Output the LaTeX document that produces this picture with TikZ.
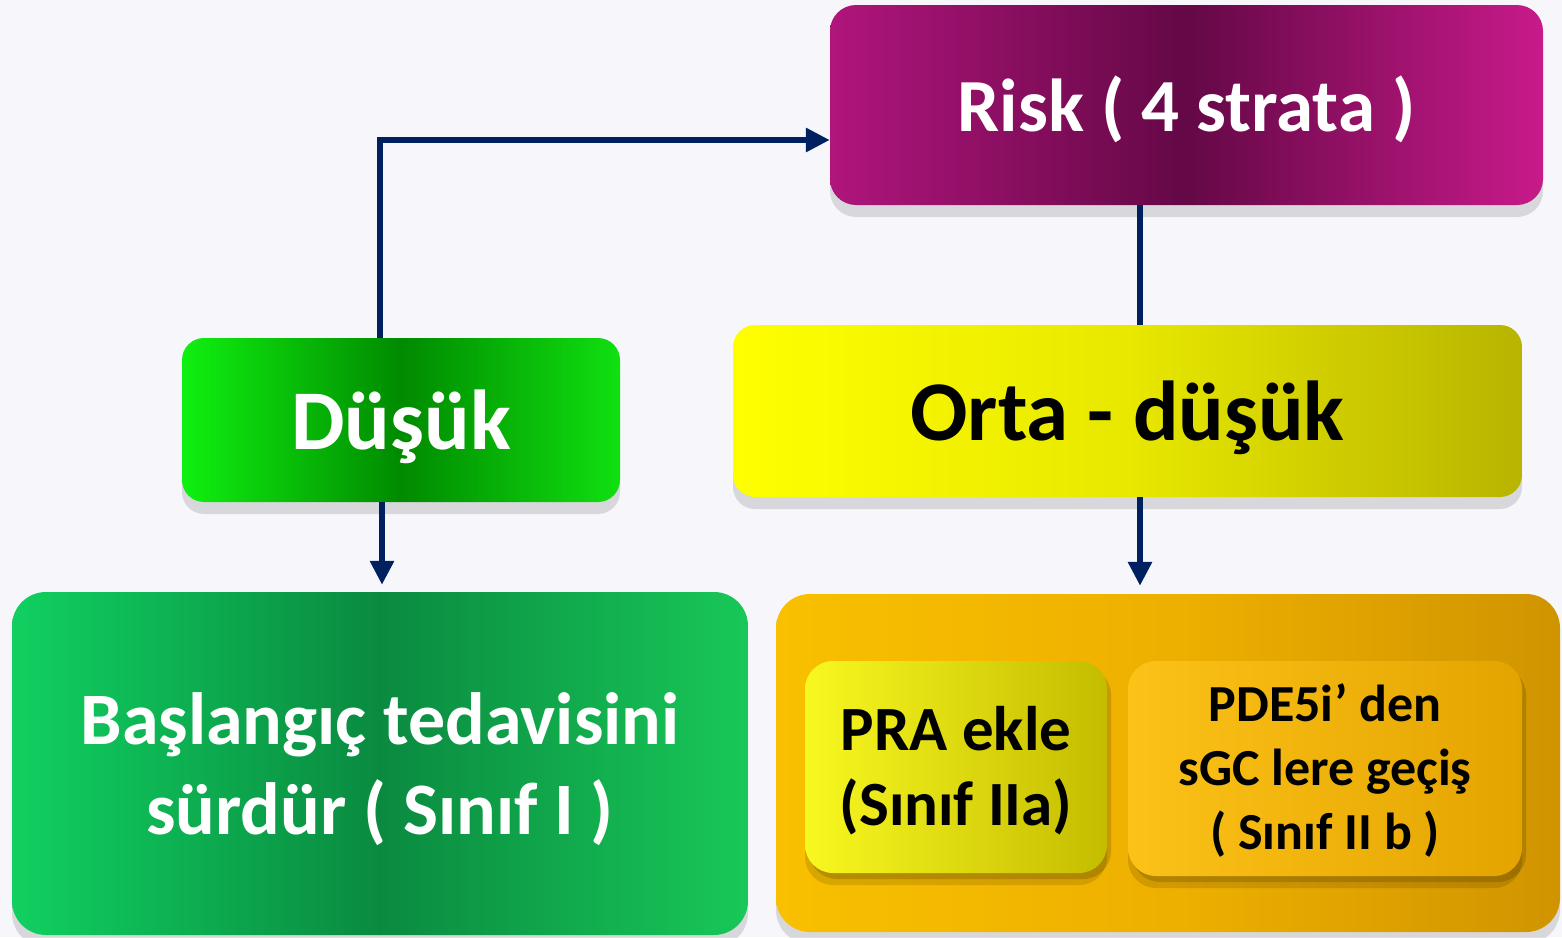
\documentclass[tikz,border=0pt]{standalone}
\usepackage{fontspec}
\setmainfont{Carlito}
\usetikzlibrary{arrows.meta,shadows,calc}
\definecolor{navy}{HTML}{002060}
\definecolor{bgc}{HTML}{F7F7FB}
\definecolor{magL}{HTML}{B0157C}
\definecolor{magM}{HTML}{640846}
\definecolor{magR}{HTML}{C81A8A}
\definecolor{grL}{HTML}{10F010}
\definecolor{grM}{HTML}{008A00}
\definecolor{grR}{HTML}{10E010}
\definecolor{yeL}{HTML}{FFFF00}
\definecolor{yeM}{HTML}{E8E800}
\definecolor{yeR}{HTML}{B8B400}
\definecolor{dgL}{HTML}{10D060}
\definecolor{dgM}{HTML}{0A8A40}
\definecolor{dgR}{HTML}{18C858}
\definecolor{orL}{HTML}{F8C000}
\definecolor{orM}{HTML}{EEB000}
\definecolor{orR}{HTML}{D09400}
\definecolor{prL}{HTML}{F8F820}
\definecolor{prR}{HTML}{C4BC00}
\definecolor{pdL}{HTML}{FCC218}
\definecolor{pdR}{HTML}{E4A400}
\tikzset{
  box/.style={rounded corners=26pt, inner sep=0pt,
    drop shadow={shadow xshift=0pt, shadow yshift=-12pt, opacity=0.12, fill=black}},
  inbox/.style={box, rounded corners=28pt,
    drop shadow={shadow xshift=4pt, shadow yshift=-6pt, opacity=0.15, fill=black}},
  label/.style={inner sep=0pt, align=center},
  conn/.style={draw=navy, line width=6.5pt},
  tip/.style={-{Triangle[length=24pt,width=23pt]}},
}
\begin{document}
\begin{tikzpicture}[x=1pt,y=-1pt]
\fill[bgc] (0,0) rectangle (1562,937);
\useasboundingbox (0,0) rectangle (1562,937);
% boxes
\node[box, minimum width=713pt, minimum height=200pt, left color=magL, right color=magR, middle color=magM] (risk) at (1186.5,105) {};
\node[box, rounded corners=22pt, minimum width=438pt, minimum height=164pt, left color=grL, right color=grR, middle color=grM] (dusuk) at (401,420) {};
\node[box, rounded corners=22pt, minimum width=789pt, minimum height=172pt, left color=yeL, right color=yeR, middle color=yeM] (orta) at (1127.5,411) {};
\node[box, rounded corners=34pt, minimum width=736pt, minimum height=343pt, left color=dgL, right color=dgR, middle color=dgM] (basla) at (380,763.5) {};
\node[box, rounded corners=34pt, minimum width=784pt, minimum height=338pt, left color=orL, right color=orR, middle color=orM] (outer) at (1168,763) {};
\node[inbox, minimum width=302pt, minimum height=212pt, left color=prL, right color=prR] (pra) at (956,767) {};
\node[inbox, minimum width=394pt, minimum height=215pt, left color=pdL, right color=pdR] (pde) at (1325,768.5) {};
% texts
\node[label, text=white, font=\bfseries\fontsize{75}{80}\selectfont] (risktxt) at ([yshift=-4pt]risk.center) {Risk ( 4 strata )};
\node[label, text=white, font=\bfseries\fontsize{85}{88}\selectfont] (dusuktxt) at ([yshift=-7pt]dusuk.center) {Düşük};
\node[label, text=black, font=\bfseries\fontsize{85}{88}\selectfont] (ortatxt) at ([yshift=-7pt]orta.center) {Orta - düşük};
\node[label, text=white, font=\bfseries\fontsize{74}{90}\selectfont] (baslatxt) at ([yshift=-6pt]basla.center) {Başlangıç tedavisini\\sürdür ( Sınıf I )};
\node[label, text=black, font=\bfseries\fontsize{63}{75}\selectfont] (pratxt) at ([yshift=-4pt]pra.center) {PRA ekle\\(Sınıf IIa)};
\node[label, text=black, font=\bfseries\fontsize{52}{64}\selectfont] (pdetxt) at ([yshift=-2pt]pde.center) {PDE5i’ den\\sGC lere geçiş\\( Sınıf II b )};
% connectors
\draw[conn, tip] ([xshift=-21pt]dusuk.north) |- ([yshift=-35pt]risk.west);
\draw[conn, tip, shorten >=7pt] ([xshift=-19pt]dusuk.south) -- ([xshift=-19pt]dusuk.south |- basla.north);
\draw[conn] ([xshift=-46.5pt]risk.south) -- ([xshift=-46.5pt]risk.south |- orta.north);
\draw[conn, tip, shorten >=8pt] ([xshift=12.5pt]orta.south) -- ([xshift=12.5pt]orta.south |- outer.north);
\end{tikzpicture}
\end{document}
